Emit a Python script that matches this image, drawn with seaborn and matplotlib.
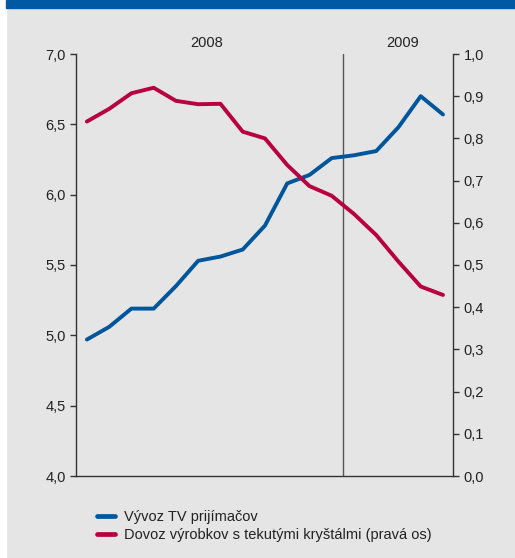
import matplotlib
matplotlib.use('Agg')
import matplotlib.pyplot as plt
import matplotlib.patches as mpatches
import matplotlib.transforms as mtransforms
import pandas as pd
import seaborn as sns

# ── Data (monthly, Jan 2008 – May 2009) ──────────────────────────────────────
months = list(range(17))
tv_export = [4.97, 5.06, 5.19, 5.19, 5.35, 5.53, 5.56, 5.61, 5.78, 6.08, 6.14,
             6.26, 6.28, 6.31, 6.48, 6.70, 6.57]
lcd_import = [0.84, 0.87, 0.907, 0.92, 0.889, 0.881, 0.882, 0.816, 0.80, 0.737,
              0.687, 0.664, 0.621, 0.571, 0.508, 0.449, 0.429]
years = ["2008", "2009"]
year_pos = [5.4, 14.2]
left_ticks = [4.0, 4.5, 5.0, 5.5, 6.0, 6.5, 7.0]
right_ticks = [0.0, 0.1, 0.2, 0.3, 0.4, 0.5, 0.6, 0.7, 0.8, 0.9, 1.0]
labels = ["Vývoz TV prijímačov", "Dovoz výrobkov s tekutými kryštálmi (pravá os)"]

BLUE = "#00559b"
RED = "#b8003f"
BG = "#e5e5e5"
INK = "#333333"

sns.set_style("ticks")
plt.rcParams['font.family'] = ['Liberation Sans', 'DejaVu Sans']

df = pd.DataFrame({"month": months, "tv": tv_export, "lcd": lcd_import})

fig = plt.figure(figsize=(5.15, 5.58), dpi=100, facecolor=BG)
# white margin on the left + blue band on top
fig.patches.append(mpatches.Rectangle((0, 0), 6 / 515, 1,
                                      transform=fig.transFigure, color="white", zorder=-10))
fig.patches.append(mpatches.Rectangle((6 / 515, 1 - 8 / 558), 1 - 6 / 515, 8 / 558,
                                      transform=fig.transFigure, color="#005aa3", zorder=-10))

ax = fig.add_axes([76 / 515, 1 - 476 / 558, (453 - 76) / 515, (476 - 54) / 558])
ax.set_facecolor("none")
ax2 = ax.twinx()
ax2.set_facecolor("none")

sns.lineplot(data=df, x="month", y="tv", ax=ax, color=BLUE, linewidth=2.8,
             label=labels[0], legend=False)
sns.lineplot(data=df, x="month", y="lcd", ax=ax2, color=RED, linewidth=2.8,
             label=labels[1], legend=False)

ax.set_xlim(-0.49, 16.45)
ax.set_ylim(4.0, 7.0)
ax2.set_ylim(0.0, 1.0)
ax.set_yticks(left_ticks)
ax.set_yticklabels([f"{v:.1f}".replace(".", ",") for v in left_ticks])
ax2.set_yticks(right_ticks)
ax2.set_yticklabels([f"{v:.1f}".replace(".", ",") for v in right_ticks])
ax.set_xticks([])
ax.set_xlabel("")
ax.set_ylabel("")
ax2.set_ylabel("")

for a in (ax, ax2):
    a.spines["top"].set_visible(False)
    for s in a.spines.values():
        s.set_color(INK)
        s.set_linewidth(1.0)
    a.tick_params(axis="y", direction="out", length=4.5, width=1.0, color=INK,
                  labelsize=10.5, labelcolor="#222222", pad=3)
ax.spines["right"].set_visible(False)
ax2.spines["left"].set_visible(False)
ax2.spines["bottom"].set_visible(False)

# year divider and labels
ax.axvline(11.5, color="#555555", linewidth=1.0, zorder=1)
trans = mtransforms.blended_transform_factory(ax.transData, ax.transAxes)
for yr, xp in zip(years, year_pos):
    ax.text(xp, 1.027, yr, transform=trans, ha="center", va="center",
            fontsize=10.5, color="#222222")

# legend below the plot
handles = [plt.Line2D([], [], color=BLUE, linewidth=3.4),
           plt.Line2D([], [], color=RED, linewidth=3.4)]
fig.legend(handles, labels, loc="upper left", bbox_to_anchor=(84 / 515, 1 - 497 / 558),
           frameon=False, fontsize=10.5, handlelength=1.25, handletextpad=0.6,
           labelspacing=0.3, labelcolor="#222222")

fig.savefig("out.png", dpi=100, facecolor=BG)
